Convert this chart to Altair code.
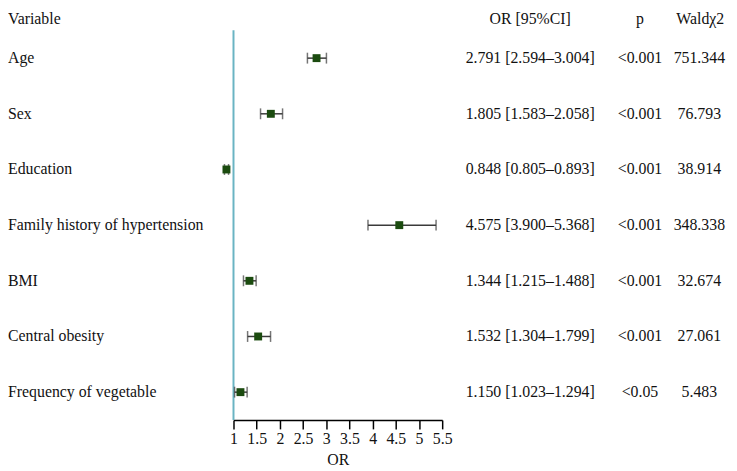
import altair as alt
import pandas as pd

variables = ["Age", "Sex", "Education", "Family history of hypertension",
             "BMI", "Central obesity", "Frequency of vegetable"]
or_vals = [2.791, 1.805, 0.848, 4.575, 1.344, 1.532, 1.150]
lower = [2.594, 1.583, 0.805, 3.900, 1.215, 1.304, 1.023]
upper = [3.004, 2.058, 0.893, 5.368, 1.488, 1.799, 1.294]
p_labels = ["<0.001", "<0.001", "<0.001", "<0.001", "<0.001", "<0.001", "<0.05"]
wald = ["751.344", "76.793", "38.914", "348.338", "32.674", "27.061", "5.483"]
x_ticks = [1, 1.5, 2, 2.5, 3, 3.5, 4, 4.5, 5, 5.5]
headers = ["Variable", "OR [95%CI]", "p", "Waldχ2"]

df = pd.DataFrame({
    "variable": variables,
    "or": or_vals,
    "lower": lower,
    "upper": upper,
    "p": p_labels,
    "wald": wald,
})
df["ci"] = [f"{o:.3f} [{l:.3f}\u2013{u:.3f}]" for o, l, u in zip(or_vals, lower, upper)]

W, H = 211, 394
FONT = "Liberation Serif"
FS = 16
TXT = "#111111"

y_enc = alt.Y("variable:N", sort=variables,
              scale=alt.Scale(paddingInner=0, paddingOuter=0), axis=None)
x_scale = alt.Scale(domain=[1, 5.5], nice=False, zero=False)
x_axis = alt.Axis(values=x_ticks, format="~g", title="OR", grid=False,
                  domainColor="#000", domainWidth=1.5,
                  tickColor="#000", tickWidth=1.5, tickSize=9,
                  labelFont=FONT, labelFontSize=FS, labelColor=TXT,
                  labelPadding=2, labelFlush=False, labelOverlap=False,
                  titleFont=FONT, titleFontSize=FS, titleFontWeight="normal",
                  titleColor=TXT, titlePadding=5)

base = alt.Chart(df)

ref = alt.Chart(pd.DataFrame({"ref": [1.0]})).mark_rule(
    color="#6AB4C3", strokeWidth=2).encode(
    x=alt.X("ref:Q", scale=x_scale, axis=x_axis), y=alt.value(0), y2=alt.value(H))

bars = base.mark_rule(color="#3a3a3a", strokeWidth=1.5).encode(
    x=alt.X("lower:Q", scale=x_scale, axis=x_axis),
    x2="upper:Q",
    y=y_enc,
)
cap_lo = base.mark_tick(color="#3a3a3a", thickness=1.5, size=11).encode(
    x=alt.X("lower:Q", scale=x_scale, axis=x_axis), y=y_enc)
cap_hi = base.mark_tick(color="#3a3a3a", thickness=1.5, size=11).encode(
    x=alt.X("upper:Q", scale=x_scale, axis=x_axis), y=y_enc)
pts = base.mark_square(color="#1B4B0F", size=64, opacity=1).encode(
    x=alt.X("or:Q", scale=x_scale, axis=x_axis), y=y_enc)

def col_text(field, xpx, align):
    return base.mark_text(font=FONT, fontSize=FS, color=TXT, align=align,
                          baseline="middle").encode(
        x=alt.value(xpx), y=y_enc, text=f"{field}:N")

t_var = col_text("variable", -228, "left")
t_ci = col_text("ci", 300, "center")
t_p = col_text("p", 411, "center")
t_w = col_text("wald", 471, "center")

hdf = pd.DataFrame({"h": headers})
def head(i, xpx, align):
    return alt.Chart(hdf).transform_filter(
        alt.datum.h == headers[i]).mark_text(
        font=FONT, fontSize=FS, color=TXT, align=align, baseline="middle").encode(
        x=alt.value(xpx), y=alt.value(-11), text="h:N")

hdrs = [head(0, -228, "left"), head(1, 300, "center"),
        head(2, 411, "center"), head(3, 472, "center")]

chart = alt.layer(ref, bars, cap_lo, cap_hi, pts, t_var, t_ci, t_p, t_w, *hdrs).properties(
    width=W, height=H,
    autosize=alt.AutoSizeParams(type="none"),
    padding={"left": 228, "top": 20, "right": 290, "bottom": 46},
    background="white",
).configure_view(stroke=None)

chart.save("out.html", embed_options={"renderer": "svg", "actions": False})
